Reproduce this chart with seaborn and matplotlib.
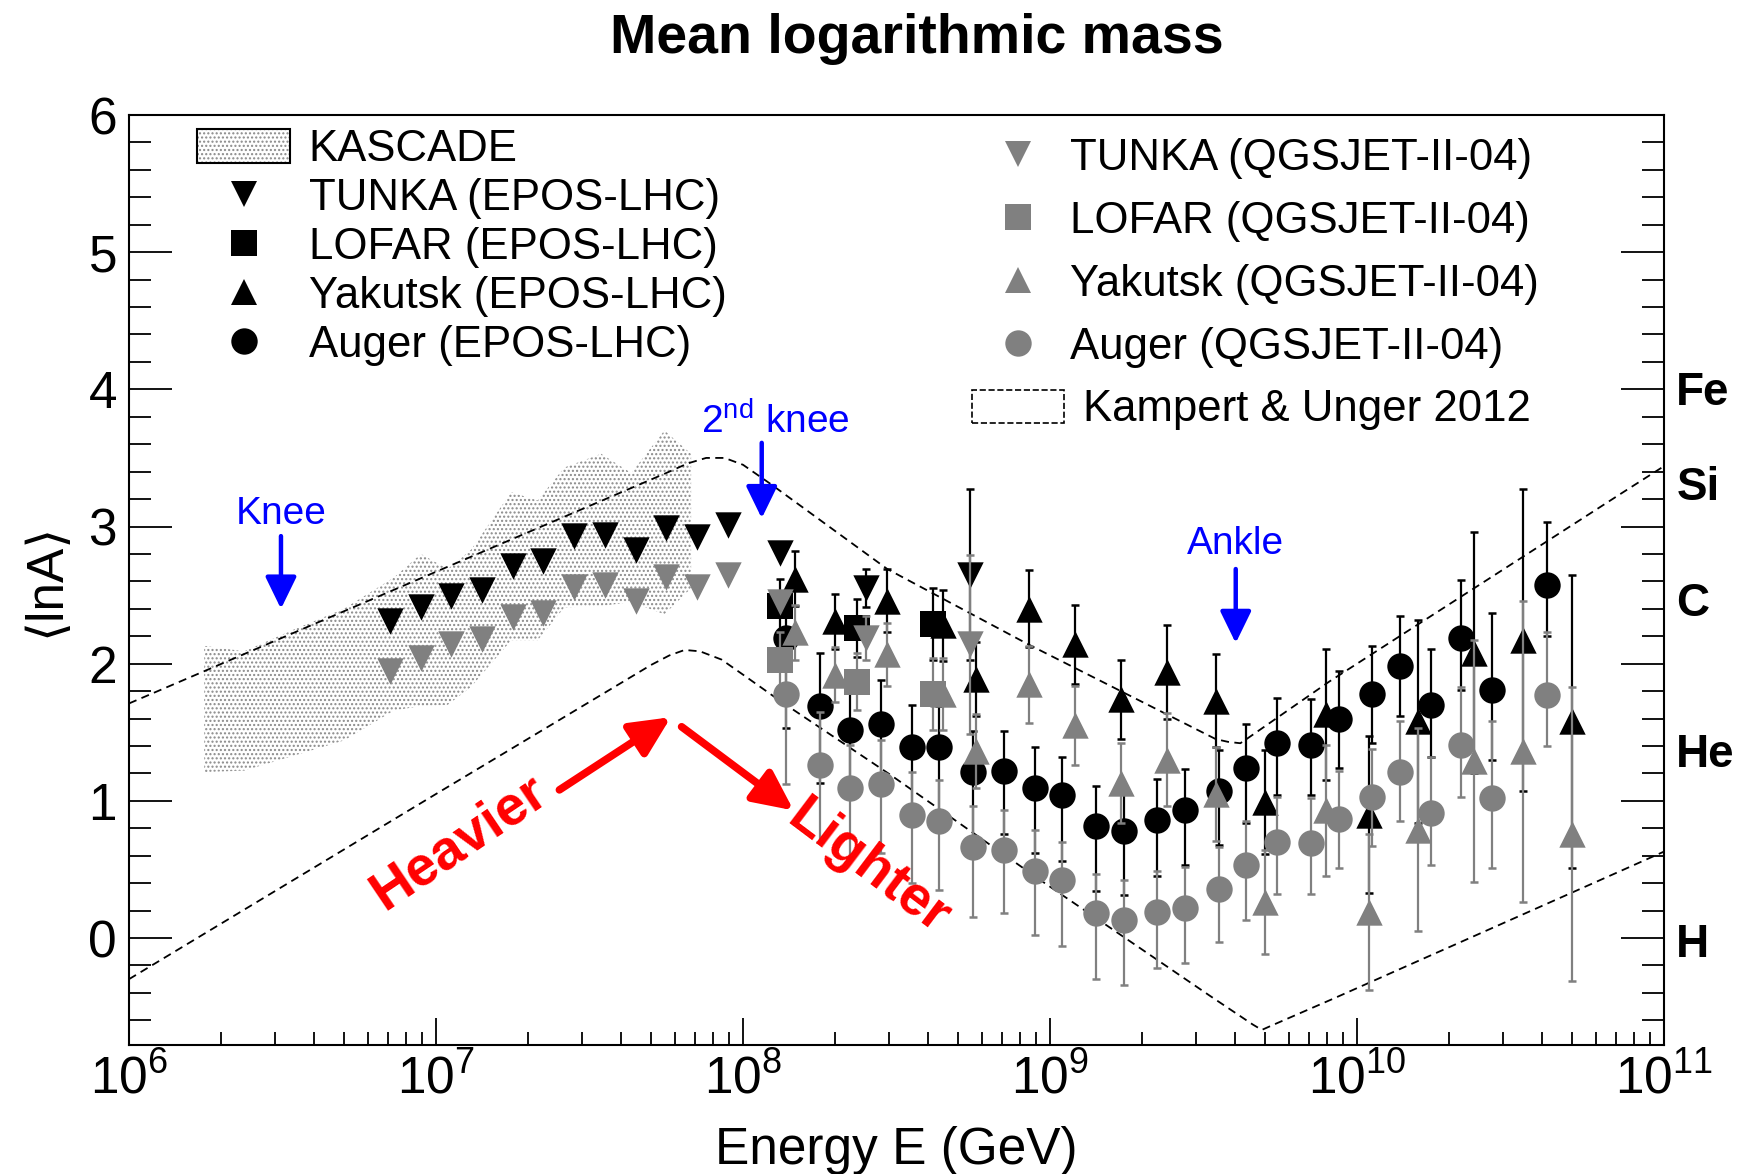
import numpy as np
import matplotlib
matplotlib.use("Agg")
import matplotlib.pyplot as plt
import matplotlib.transforms as mtransforms
from matplotlib.lines import Line2D
from matplotlib.patches import Patch
from matplotlib.ticker import LogLocator, MultipleLocator, NullFormatter, LogFormatterMathtext
import seaborn as sns

# ---------------- data: log10(E / GeV) and <lnA> ----------------
# KASCADE band (lower / upper edge)
kascade_logE = [6.245, 6.375, 6.538, 6.70, 6.864, 6.951, 7.038, 7.114, 7.245, 7.331,
                7.418, 7.538, 7.636, 7.744, 7.831]
kascade_hi = [2.13, 2.09, 2.25, 2.40, 2.63, 2.80, 2.69, 2.83, 3.25, 3.19,
              3.43, 3.53, 3.39, 3.70, 3.53]
kascade_lo = [1.21, 1.22, 1.33, 1.44, 1.66, 1.69, 1.70, 1.83, 2.17, 2.17,
              2.41, 2.42, 2.45, 2.36, 2.55]

# TUNKA-133 (no error bars)
tunka_logE = [6.85, 6.95, 7.05, 7.15, 7.25, 7.35, 7.45, 7.55, 7.65, 7.75, 7.85, 7.95, 8.12]
tunka_epos = [2.31, 2.41, 2.49, 2.54, 2.71, 2.75, 2.93, 2.94, 2.83, 2.99, 2.92, 3.01, 2.81]
tunka_qgs = [1.95, 2.04, 2.14, 2.18, 2.34, 2.37, 2.56, 2.57, 2.46, 2.63, 2.56, 2.65, 2.45]

# Tunka-Rex
trex_logE = [8.40, 8.74]
trex_epos = [2.55, 2.65]
trex_qgs = [2.19, 2.14]
trex_err_epos = [0.14, 0.62]
trex_err_qgs = [0.16, 0.65]

# LOFAR
lofar_logE = [8.12, 8.37, 8.62]
lofar_epos = [2.42, 2.26, 2.29]
lofar_qgs = [2.03, 1.87, 1.78]
lofar_err = [0.20, 0.21, 0.26]

# Yakutsk
yak_logE = [8.17, 8.30, 8.47, 8.65, 8.76, 8.93, 9.08, 9.23, 9.38, 9.54, 9.70, 9.90,
            10.04, 10.20, 10.38, 10.54, 10.70]
yak_epos = [2.62, 2.31, 2.46, 2.28, 1.89, 2.40, 2.14, 1.74, 1.94, 1.73, 0.99, 1.63,
            0.90, 1.58, 2.08, 2.17, 1.58]
yak_qgs = [2.23, 1.92, 2.07, 1.78, 1.36, 1.85, 1.55, 1.13, 1.30, 1.05, 0.26, 0.93,
           0.19, 0.79, 1.29, 1.36, 0.76]
yak_err = [0.20, 0.20, 0.23, 0.26, 0.27, 0.28, 0.29, 0.29, 0.34, 0.34, 0.38, 0.48,
           0.57, 0.74, 0.88, 1.10, 1.07]

# Auger
auger_logE = [8.14, 8.25, 8.35, 8.45, 8.55, 8.64, 8.75, 8.85, 8.95, 9.04, 9.15, 9.24,
              9.35, 9.44, 9.55, 9.64, 9.74, 9.85, 9.94, 10.05, 10.14, 10.24, 10.34,
              10.44, 10.62]
auger_epos = [2.19, 1.69, 1.52, 1.56, 1.39, 1.39, 1.21, 1.22, 1.09, 1.04, 0.82, 0.78,
              0.86, 0.93, 1.07, 1.24, 1.42, 1.41, 1.60, 1.78, 1.98, 1.70, 2.19, 1.81, 2.57]
auger_qgs = [1.78, 1.26, 1.09, 1.12, 0.90, 0.85, 0.66, 0.64, 0.49, 0.42, 0.18, 0.13,
             0.19, 0.22, 0.36, 0.53, 0.70, 0.69, 0.87, 1.03, 1.21, 0.91, 1.41, 1.02, 1.77]
auger_err_up = [0.30, 0.39, 0.32, 0.32, 0.31, 0.30, 0.30, 0.29, 0.30, 0.28, 0.29, 0.29,
                0.30, 0.30, 0.30, 0.32, 0.33, 0.33, 0.35, 0.35, 0.37, 0.41, 0.42, 0.56, 0.46]
auger_err_dn = [0.66, 0.56, 0.50, 0.50, 0.50, 0.50, 0.51, 0.46, 0.47, 0.48, 0.48, 0.47,
                0.41, 0.40, 0.39, 0.40, 0.38, 0.37, 0.36, 0.36, 0.36, 0.38, 0.38, 0.51, 0.37]

# Kampert & Unger 2012 envelope
ku_hi_logE = [6.0, 7.0, 7.75, 7.82, 7.88, 7.94, 8.0, 8.09, 8.47, 8.93, 9.54, 9.58,
              9.62, 9.64, 9.91, 10.86, 11.0]
ku_hi = [1.71, 2.67, 3.39, 3.46, 3.50, 3.50, 3.45, 3.31, 2.69, 2.14, 1.45, 1.43,
         1.42, 1.45, 1.87, 3.24, 3.44]
ku_lo_logE = [6.0, 7.0, 7.70, 7.76, 7.81, 7.86, 7.93, 8.0, 8.12, 8.48, 8.97, 9.52,
              9.66, 9.69, 9.72, 9.92, 10.86, 11.0]
ku_lo = [-0.30, 1.05, 1.99, 2.06, 2.10, 2.09, 2.03, 1.92, 1.73, 1.19, 0.42, -0.42,
         -0.63, -0.67, -0.64, -0.445, 0.49, 0.63]

# nuclei marked on the right-hand axis
element_names = ["Fe", "Si", "C", "He", "H"]
element_A = [56, 28, 12, 4, 1]

# ---------------- style ----------------
sns.set_theme(style="ticks")
plt.rcParams["font.family"] = ["Liberation Sans", "DejaVu Sans"]
plt.rcParams["mathtext.fontset"] = "custom"
plt.rcParams["mathtext.rm"] = "Liberation Sans"
plt.rcParams["mathtext.it"] = "Liberation Sans:italic"
plt.rcParams["mathtext.bf"] = "Liberation Sans:bold"
plt.rcParams["hatch.linewidth"] = 1.0
plt.rcParams["axes.linewidth"] = 1.5
for key in ["text.color", "axes.labelcolor", "axes.edgecolor", "xtick.color", "ytick.color"]:
    plt.rcParams[key] = "black"

BLACK = "#000000"
GREY = "#808080"
BLUE = "#0000ff"
RED = "#ff0000"
MS = 19  # marker size (points)

def E(v):
    return 10.0 ** np.asarray(v, dtype=float)

fig = plt.figure(figsize=(17.39, 11.74), dpi=100)
ax = fig.add_axes([0.07418, 0.10988, 0.88269, 0.79216])
ax.set_xscale("log")
ax.set_xlim(1e6, 1e11)
ax.set_ylim(-0.78, 6)

# KASCADE band
ax.fill_between(E(kascade_logE), kascade_lo, kascade_hi, facecolor="white",
                edgecolor="#8a8a8a", hatch="....", linewidth=0, zorder=1)

# Kampert & Unger envelope
dash = (0, (4.5, 3.0))
ax.plot(E(ku_hi_logE), ku_hi, color=BLACK, lw=1.3, ls=dash, zorder=2)
ax.plot(E(ku_lo_logE), ku_lo, color=BLACK, lw=1.3, ls=dash, zorder=2)


def bars(logE, y, lo, hi, color, z):
    ax.errorbar(E(logE), y, yerr=[lo, hi], fmt="none", ecolor=color,
                elinewidth=1.6, capsize=3.2, capthick=1.8, zorder=z)


def points(logE, y, marker, color, z):
    sns.scatterplot(x=E(logE), y=np.asarray(y), marker=marker, s=MS ** 2,
                    color=color, linewidth=0, legend=False, ax=ax, zorder=z)


# EPOS-LHC (black), then QGSJET-II-04 (grey) on top
for color, z, tun, trx, trx_e, lof, yak, aug in [
    (BLACK, 3, tunka_epos, trex_epos, trex_err_epos, lofar_epos, yak_epos, auger_epos),
    (GREY, 5, tunka_qgs, trex_qgs, trex_err_qgs, lofar_qgs, yak_qgs, auger_qgs),
]:
    bars(trex_logE, trx, trx_e, trx_e, color, z)
    bars(lofar_logE, lof, lofar_err, lofar_err, color, z)
    bars(yak_logE, yak, yak_err, yak_err, color, z)
    bars(auger_logE, aug, auger_err_dn, auger_err_up, color, z)
    points(tunka_logE, tun, "v", color, z + 1)
    points(trex_logE, trx, "v", color, z + 1)
    points(lofar_logE, lof, "s", color, z + 1)
    points(yak_logE, yak, "^", color, z + 1)
    points(auger_logE, aug, "o", color, z + 1)

# ---------------- axes ----------------
ax.xaxis.set_major_locator(LogLocator(base=10, numticks=20))
ax.xaxis.set_major_formatter(LogFormatterMathtext())
ax.xaxis.set_minor_locator(LogLocator(base=10, subs=np.arange(2, 10), numticks=100))
ax.xaxis.set_minor_formatter(NullFormatter())
ax.yaxis.set_major_locator(MultipleLocator(1))
ax.yaxis.set_minor_locator(MultipleLocator(0.2))
ax.tick_params(axis="x", which="major", direction="in", length=19.4, width=1.3,
               labelsize=37, pad=7, top=False)
ax.tick_params(axis="x", which="minor", direction="in", length=9.6, width=1.3, top=False)
ax.tick_params(axis="y", which="major", direction="in", length=31, width=1.3,
               labelsize=37, pad=8.6, right=True)
ax.tick_params(axis="y", which="minor", direction="in", length=15.8, width=1.3, right=True)
for sp in ax.spines.values():
    sp.set_linewidth(1.5)
    sp.set_visible(True)

trans = mtransforms.blended_transform_factory(ax.transAxes, ax.transData)
for name, a in zip(element_names, element_A):
    ax.text(1.008, np.log(a) - 0.14, name, transform=trans, ha="left", va="baseline",
            fontsize=33, fontweight="bold", color=BLACK)

# ---------------- annotations ----------------
def arrow(tail, tip, color, lw, hl, hw):
    ax.annotate("", xy=(10 ** tip[0], tip[1]), xytext=(10 ** tail[0], tail[1]),
                arrowprops=dict(arrowstyle=f"-|>,head_length={hl},head_width={hw}",
                                mutation_scale=10, color=color, lw=lw,
                                shrinkA=0, shrinkB=0),
                zorder=8)

ax.text(10 ** 6.495, 3.02, "Knee", color=BLUE, fontsize=28, ha="center", va="baseline")
arrow((6.495, 2.93), (6.495, 2.40), BLUE, 3.2, 1.95, 0.95)
ax.text(10 ** 8.106, 3.68, r"2$^{\rm nd}$ knee", color=BLUE, fontsize=28,
        ha="center", va="baseline")
arrow((8.061, 3.61), (8.061, 3.06), BLUE, 3.2, 1.95, 0.95)
ax.text(10 ** 9.605, 2.80, "Ankle", color=BLUE, fontsize=28, ha="center", va="baseline")
arrow((9.605, 2.69), (9.605, 2.15), BLUE, 3.2, 1.95, 0.95)

arrow((7.402, 1.08), (7.765, 1.61), RED, 5.5, 2.4, 1.15)
arrow((7.800, 1.54), (8.165, 0.93), RED, 5.5, 2.4, 1.15)
ax.text(10 ** 7.076, 0.69, "Heavier", color=RED, fontsize=40, fontweight="bold",
        rotation=34, rotation_mode="anchor", ha="center", va="center", zorder=8)
ax.text(10 ** 8.407, 0.51, "Lighter", color=RED, fontsize=40, fontweight="bold",
        rotation=-37, rotation_mode="anchor", ha="center", va="center", zorder=8)

# ---------------- legends ----------------
kascade_handle = (Patch(facecolor="white", edgecolor="#8a8a8a", hatch="....", linewidth=0),
                  Patch(facecolor="none", edgecolor=BLACK, linewidth=1.5))

def mk(marker, color):
    return Line2D([], [], marker=marker, ls="none", color=color, markersize=MS,
                  markeredgewidth=0)

left_handles = [kascade_handle, mk("v", BLACK), mk("s", BLACK), mk("^", BLACK), mk("o", BLACK)]
left_labels = ["KASCADE", "TUNKA (EPOS-LHC)", "LOFAR (EPOS-LHC)",
               "Yakutsk (EPOS-LHC)", "Auger (EPOS-LHC)"]
right_handles = [mk("v", GREY), mk("s", GREY), mk("^", GREY), mk("o", GREY),
                 Patch(facecolor="none", edgecolor=BLACK, linestyle="--", linewidth=1.2)]
right_labels = ["TUNKA (QGSJET-II-04)", "LOFAR (QGSJET-II-04)",
                "Yakutsk (QGSJET-II-04)", "Auger (QGSJET-II-04)",
                "Kampert & Unger 2012"]

leg_kw = dict(frameon=False, fontsize=31.5, handlelength=2.12, handleheight=0.8,
              borderpad=0, borderaxespad=0, loc="upper left",
              bbox_transform=fig.transFigure)
leg1 = ax.legend(left_handles, left_labels, labelspacing=0.18, handletextpad=0.42,
                 bbox_to_anchor=(197.4 / 1739, 1 - 129 / 1174), **leg_kw)
ax.add_artist(leg1)
leg2 = ax.legend(right_handles, right_labels, labelspacing=0.50, handletextpad=0.12,
                 bbox_to_anchor=(971.6 / 1739, 1 - 138 / 1174), **leg_kw)
# a little more room between the dashed box and its label
leg2.get_texts()[4].set_x(13)

# ---------------- titles ----------------
fig.text(916.7 / 1739, 1 - 53 / 1174, "Mean logarithmic mass", fontsize=40,
         fontweight="bold", ha="center", va="baseline")
fig.text(896.7 / 1739, 10 / 1174, "Energy E (GeV)", fontsize=37, ha="center",
         va="baseline")
fig.text(46 / 1739, 1 - 580 / 1174, "\u27e8lnA\u27e9", fontsize=37, rotation=90,
         ha="center", va="center")

fig.savefig("out.png", dpi=100)
